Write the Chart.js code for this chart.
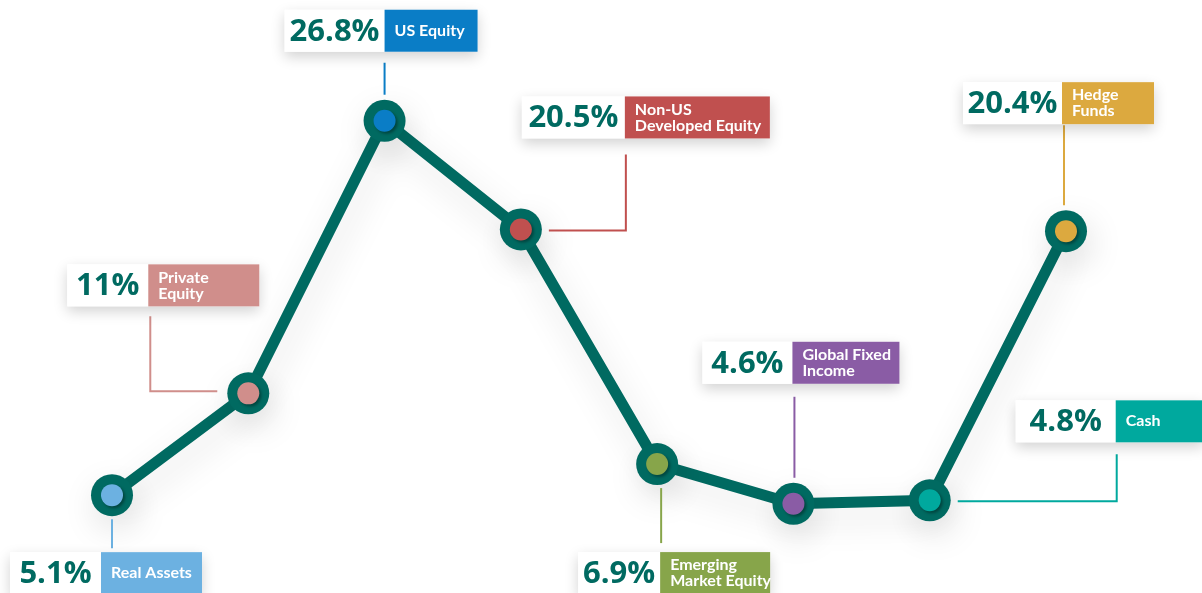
<!DOCTYPE html>
<html>
<head>
<meta charset="utf-8">
<script src="https://cdn.jsdelivr.net/npm/chart.js@4"></script>
<style>
  html, body { margin: 0; padding: 0; background: #ffffff; }
  #wrap { position: relative; width: 1202px; height: 593px; }
</style>
</head>
<body>
<div id="wrap"><canvas id="c"></canvas></div>
<script>
// ---- data ----
const categories = ["Real Assets", "Private Equity", "US Equity", "Non-US Developed Equity",
  "Emerging Market Equity", "Global Fixed Income", "Cash", "Hedge Funds"];
const values = [5.1, 11, 26.8, 20.5, 6.9, 4.6, 4.8, 20.4];
const valueLabels = ["5.1%", "11%", "26.8%", "20.5%", "6.9%", "4.6%", "4.8%", "20.4%"];
const labelLines = [["Real Assets"], ["Private", "Equity"], ["US Equity"], ["Non-US", "Developed Equity"],
  ["Emerging", "Market Equity"], ["Global Fixed", "Income"], ["Cash"], ["Hedge", "Funds"]];
const colors = ["#6cb1e1", "#d08e8b", "#0a7dc6", "#c0504f", "#87a54a", "#8a5ca5", "#00a99e", "#dca93f"];

// ---- callout placement (styling, relative to each point) ----
const callouts = [
  { div: -11, top: 57,   ww: 91,  cw: 101, conn: "down" },
  { div: -100, top: -129, ww: 81, cw: 111, conn: "elbowLeft" },
  { div: 0,   top: -111, ww: 100, cw: 93,  conn: "up" },
  { div: 104, top: -133, ww: 103, cw: 145, conn: "elbowRight" },
  { div: 3,   top: 88,   ww: 82,  cw: 110, conn: "down" },
  { div: -1,  top: -162, ww: 90,  cw: 107, conn: "up" },
  { div: 186, top: -100, ww: 100, cw: 88,  conn: "elbowRight" },
  { div: -4,  top: -149, ww: 99,  cw: 92,  conn: "up" }
];
const BOX_H = 42;
const TEAL = "#006a61";

const lineShadow = {
  id: "lineShadow",
  beforeDatasetDraw(chart, args) {
    const ctx = chart.ctx;
    ctx.save();
    if (args.index === 0) {
      ctx.shadowColor = "rgba(0,0,0,0.13)";
      ctx.shadowBlur = 34;
      ctx.shadowOffsetX = 4;
      ctx.shadowOffsetY = 12;
    } else {
      ctx.shadowColor = "rgba(0,0,0,0.35)";
      ctx.shadowBlur = 3;
      ctx.shadowOffsetX = 2;
      ctx.shadowOffsetY = 2;
    }
  },
  afterDatasetDraw(chart) { chart.ctx.restore(); }
};

const calloutPlugin = {
  id: "callouts",
  afterDatasetsDraw(chart) {
    const ctx = chart.ctx;
    const meta = chart.getDatasetMeta(0);
    meta.data.forEach((pt, i) => {
      const px = pt.x, py = pt.y;
      const c = callouts[i];
      const dx = px + c.div;
      const top = py + c.top;
      const bottom = top + BOX_H;
      // connector
      ctx.save();
      ctx.strokeStyle = colors[i];
      ctx.lineWidth = 2;
      ctx.beginPath();
      if (c.conn === "down") {
        const x = px + (i === 4 ? 4 : 0);
        ctx.moveTo(x, py + 24);
        ctx.lineTo(x, top - (i === 4 ? 9 : 4));
      } else if (c.conn === "up") {
        const x = i === 2 ? px : dx + 2;
        ctx.moveTo(x, bottom + (i === 2 ? 11 : (i === 7 ? 1 : 13)));
        ctx.lineTo(x, py - 26);
      } else if (c.conn === "elbowLeft") {
        const x = dx + 2;
        ctx.moveTo(px - 31, py - 2);
        ctx.lineTo(x, py - 2);
        ctx.lineTo(x, bottom + 10);
      } else if (c.conn === "elbowRight") {
        const x = dx + 1;
        ctx.moveTo(px + 28, py + 1);
        ctx.lineTo(x, py + 1);
        ctx.lineTo(x, bottom + (i === 3 ? 16 : 12));
      }
      ctx.stroke();
      ctx.restore();

      // boxes with shadow
      ctx.save();
      ctx.shadowColor = "rgba(0,0,0,0.18)";
      ctx.shadowBlur = 14;
      ctx.shadowOffsetY = 5;
      ctx.fillStyle = "#ffffff";
      ctx.fillRect(dx - c.ww, top, c.ww + c.cw, BOX_H);
      ctx.restore();
      ctx.fillStyle = "#ffffff";
      ctx.fillRect(dx - c.ww, top, c.ww, BOX_H);
      ctx.fillStyle = colors[i];
      ctx.fillRect(dx, top, c.cw, BOX_H);

      // value text
      ctx.fillStyle = TEAL;
      ctx.font = "700 31px 'Open Sans'";
      ctx.textAlign = "center";
      ctx.textBaseline = "middle";
      ctx.fillText(valueLabels[i], dx - c.ww / 2, top + BOX_H / 2 + 1);

      // label text
      ctx.fillStyle = "#ffffff";
      ctx.font = "700 16px Lato";
      ctx.textAlign = "left";
      const lines = labelLines[i];
      const lh = 16;
      const startY = top + BOX_H / 2 - (lines.length - 1) * lh / 2;
      lines.forEach((t, k) => ctx.fillText(t, dx + 10, startY + k * lh));
    });
  }
};

new Chart(document.getElementById("c"), {
  type: "line",
  data: {
    labels: categories,
    datasets: [
      {
        data: values,
        order: 2,
        borderColor: TEAL,
        borderWidth: 11,
        pointRadius: 21,
        pointHoverRadius: 21,
        pointBackgroundColor: TEAL,
        pointBorderWidth: 0,
        tension: 0,
        clip: false
      },
      {
        data: values,
        order: 1,
        showLine: false,
        pointRadius: 11,
        pointHoverRadius: 11,
        pointBackgroundColor: colors,
        pointBorderColor: colors,
        pointBorderWidth: 0,
        clip: false
      }
    ]
  },
  options: {
    responsive: true,
    maintainAspectRatio: false,
    animation: false,
    layout: { padding: { left: 112, right: 136, top: 0, bottom: 0 } },
    plugins: { legend: { display: false }, tooltip: { enabled: false } },
    events: [],
    scales: {
      x: { display: false, offset: false },
      y: { display: false, min: 0.646, max: 32.58 }
    }
  },
  plugins: [lineShadow, calloutPlugin]
});
</script>
</body>
</html>
